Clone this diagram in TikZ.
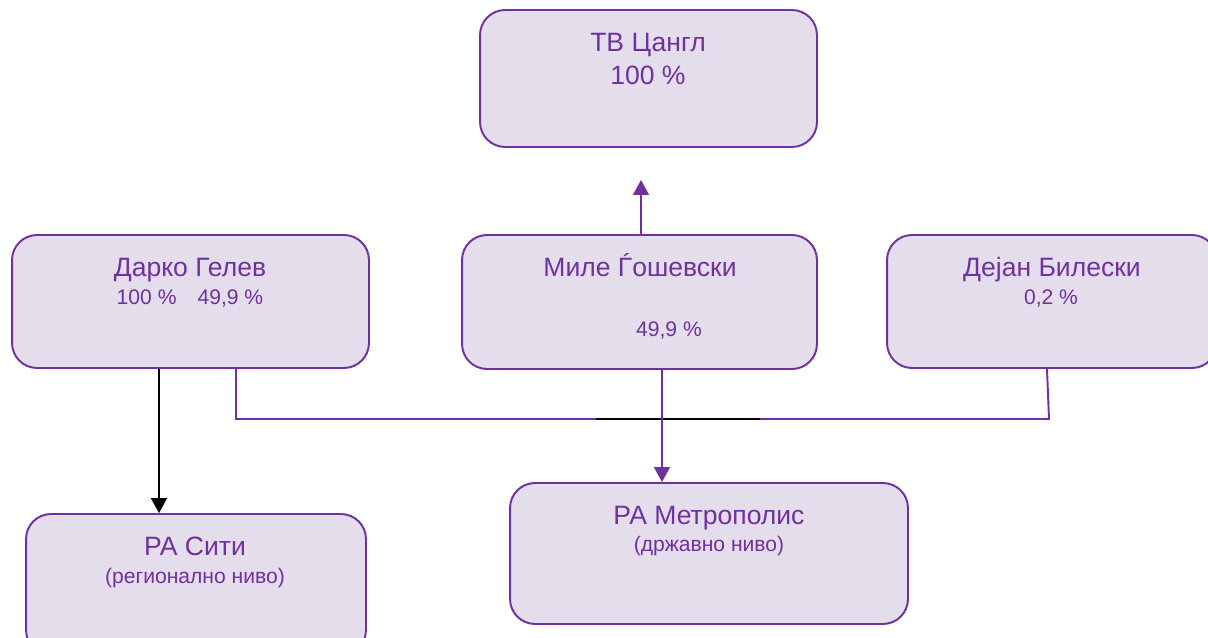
\documentclass[tikz,border=0pt]{standalone}
\usepackage{fontspec}
\setmainfont{Liberation Sans}
\usetikzlibrary{arrows.meta,positioning,calc}
\definecolor{orgpurple}{HTML}{7030A0}
\definecolor{orgfill}{HTML}{E4DEEC}

\begin{document}
\begin{tikzpicture}[
    x=0.02cm, y=-0.02cm,
    owner/.style={rectangle, draw=orgpurple, line width=1.1pt, rounded corners=0.5cm, fill=orgfill, inner sep=0pt},
    nametext/.style={anchor=base, text=orgpurple, inner sep=0pt, font=\fontsize{15.1}{18}\selectfont},
    pcttext/.style={anchor=base, text=orgpurple, inner sep=0pt, font=\fontsize{12}{14}\selectfont},
    link/.style={color=orgpurple, line width=1.1pt},
    arrow/.style={-{Triangle[length=8.5pt,width=9pt]}}
]
    \useasboundingbox (0,0) rectangle (1208,638);

    % boxes
    \node[owner, minimum width=6.74cm, minimum height=2.74cm] (cangl) at (648.5,78.5) {};
    \node[owner, minimum width=7.14cm, minimum height=2.66cm] (darko) at (190.5,301.5) {};
    \node[owner, minimum width=7.10cm, minimum height=2.68cm] (mile) at (639.5,302) {};
    \node[owner, minimum width=6.60cm, minimum height=2.66cm] (dejan) at (1052,301.5) {};
    \node[owner, minimum width=6.80cm, minimum height=2.82cm] (siti) at (196,584.5) {};
    \node[owner, minimum width=7.96cm, minimum height=2.82cm] (metro) at (709,553.5) {};

    % texts
    \node[nametext] (cangltitle) at (648,52) {ТВ Цангл};
    \node[nametext] (canglpct) at (648,85) {100 \%};
    \node[nametext] (darkotitle) at (190,277) {Дарко Гелев};
    \node[pcttext] (darkopct) at (190,305) {100 \%\quad 49,9 \%};
    \node[nametext] (miletitle) at (640,277) {Миле Ѓошевски};
    \node[pcttext] (milepct) at (669,337) {49,9 \%};
    \node[nametext] (dejantitle) at (1052,277) {Дејан Билески};
    \node[pcttext] (dejanpct) at (1051,305) {0,2 \%};
    \node[nametext] (sititle) at (195,556) {РА Сити};
    \node[pcttext] (sitilevel) at (195,584) {(регионално ниво)};
    \node[nametext] (metrotitle) at (709,525) {РА Метрополис};
    \node[pcttext] (metrolevel) at (709,552) {(државно ниво)};

    % connectors
    \coordinate (cangltip) at (641,180);
    \coordinate (busend) at (1049,419);
    \coordinate (blackfrom) at (596,419);
    \coordinate (blackto) at (760,419);

    \draw[link, arrow] (mile.north -| cangltip) -- (cangltip);
    \draw[black, line width=1.1pt, arrow] ([xshift=-0.63cm]darko.south) -- ([xshift=-0.74cm]siti.north);
    \draw[link] ([xshift=0.91cm]darko.south) |- (busend) -- ([xshift=-0.1cm]dejan.south);
    \draw[black, line width=1.1pt] (blackfrom) -- (blackto);
    \draw[link, arrow] ([xshift=0.45cm]mile.south) -- ([xshift=-0.94cm]metro.north);
\end{tikzpicture}
\end{document}
